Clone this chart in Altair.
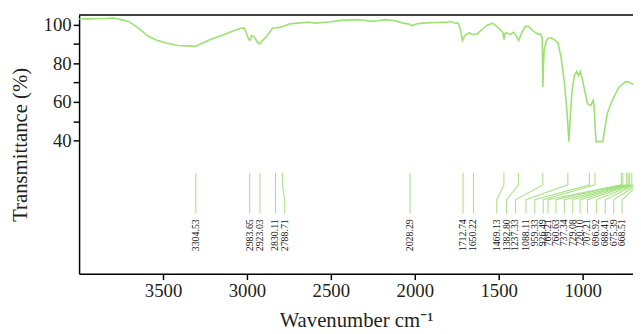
import altair as alt
import pandas as pd

# ---- spectrum ----
wn = [4000, 3950, 3900, 3850, 3794, 3750, 3706, 3650, 3588, 3540, 3488, 3412, 3350, 3306,
      3270, 3218, 3135, 3080, 3041, 3018, 3005, 2990, 2983, 2971, 2955, 2935, 2923, 2905,
      2882, 2847, 2830, 2806, 2790, 2747, 2700, 2635, 2588, 2500, 2440, 2353, 2300, 2265,
      2220, 2176, 2120, 2071, 2040, 2018, 1990, 1959, 1900, 1841, 1806, 1784, 1755, 1745,
      1735, 1725, 1716, 1706, 1696, 1676, 1657, 1628, 1600, 1569, 1547, 1539, 1525, 1512,
      1482, 1475, 1469, 1462, 1453, 1429, 1412, 1400, 1390, 1380, 1372, 1363, 1341, 1324,
      1294, 1265, 1251, 1241, 1237, 1233, 1229, 1216, 1206, 1186, 1166, 1147, 1128, 1108,
      1094, 1086, 1082, 1075, 1063, 1049, 1035, 1025, 1014, 1000, 984, 971, 951, 937, 931,
      924, 920, 900, 880, 872, 853, 824, 784, 745, 725, 706, 690]
trans = [102.9, 103.0, 103.1, 103.2, 103.4, 102.6, 101.7, 98.5, 94.0, 92.0, 90.6, 89.2, 89.0, 88.8,
         90.2, 92.3, 94.9, 96.8, 98.0, 98.3, 96.0, 92.5, 91.8, 94.4, 93.5, 90.5, 90.1, 92.0,
         94.0, 98.3, 98.4, 98.6, 98.9, 100.3, 100.8, 101.2, 100.8, 101.5, 102.2, 102.6, 102.3, 101.7,
         102.0, 102.6, 102.0, 100.8, 100.4, 99.5, 100.3, 100.8, 101.0, 101.2, 101.2, 101.6, 100.6, 101.0,
         99.5, 96.0, 91.8, 93.5, 94.9, 95.7, 94.9, 95.2, 97.5, 99.7, 100.3, 100.8, 100.0, 99.1,
         96.6, 96.0, 92.3, 95.5, 95.7, 94.9, 96.0, 94.9, 93.0, 91.8, 94.0, 95.7, 99.1, 99.1,
         96.6, 94.9, 95.2, 93.2, 67.6, 80.0, 87.2, 91.8, 93.0, 93.2, 92.0, 90.6, 82.9, 69.3,
         55.7, 45.0, 39.4, 50.5, 65.9, 73.6, 75.8, 73.6, 75.8, 71.0, 64.2, 59.1, 58.2, 60.8, 57.3,
         45.0, 39.4, 39.4, 39.4, 43.8, 54.0, 60.8, 67.6, 70.5, 70.2, 69.3, 68.5]

# ---- peak annotations ----
peaks = [3304.53, 2983.65, 2923.03, 2830.11, 2788.71, 2028.29, 1712.74, 1650.22,
         1469.13, 1382.80, 1237.33, 1088.11, 959.33, 926.49, 769.21, 760.63,
         737.34, 729.08, 720.10, 707.21, 696.92, 688.41, 675.39, 668.51]
# where each label sits along the wavenumber axis (spread out where crowded)
label_at = [3304.53, 2983.65, 2923.03, 2830.11, 2775, 2028.29, 1712.74, 1650.22,
            1512, 1453, 1400, 1338, 1285, 1235, 1206, 1159,
            1109, 1059, 1015, 971, 918, 865, 815, 765]

# leader-line levels (transmittance units)
LEAD_TOP, LEAD_BEND1, LEAD_BEND2, LEAD_BOT, LABEL_Y = 23.3, 17.0, 9.3, 2.2, -0.8

FONT = "Liberation Serif"
LINE_COLOR = "#9be270"
LEAD_COLOR = "#8fd860"

spec = pd.DataFrame({"wn": wn, "T": trans})

rows = []
for i, (p, l) in enumerate(zip(peaks, label_at)):
    for k, (xv, yv) in enumerate([(p, LEAD_TOP), (p, LEAD_BEND1), (l, LEAD_BEND2), (l, LEAD_BOT)]):
        rows.append({"peak": i, "step": k, "wn": xv, "T": yv})
leaders = pd.DataFrame(rows)

labels = pd.DataFrame({"wn": label_at, "T": [LABEL_Y] * len(peaks),
                       "label": [f"{p:.2f}" for p in peaks]})

xscale = alt.Scale(domain=[700, 4000], reverse=True, nice=False, zero=False)
yscale = alt.Scale(domain=[-29, 105], nice=False, zero=False)

X = alt.X("wn:Q", scale=xscale,
          axis=alt.Axis(values=[3500, 3000, 2500, 2000, 1500, 1000], format="d",
                        title="Wavenumber cm⁻¹", titleFontSize=21, titleY=53,
                        titleBaseline="alphabetic", labelFontSize=19, labelPadding=2))
Y = alt.Y("T:Q", scale=yscale,
          axis=alt.Axis(values=[40, 50, 60, 70, 80, 90, 100],
                        labelExpr="datum.value % 20 == 0 ? datum.label : ''",
                        title="Transmittance (%)", titleFontSize=21, titleX=-59,
                        titleBaseline="middle", labelFontSize=19, labelPadding=2))

spectrum = alt.Chart(spec).mark_line(color=LINE_COLOR, strokeWidth=1.6, clip=True).encode(
    x=X, y=Y,
)

lead = alt.Chart(leaders).mark_line(color=LEAD_COLOR, strokeWidth=1.1, opacity=0.75, clip=True).encode(
    x=X, y=Y,
    detail="peak:N",
    order="step:Q",
)

text = alt.Chart(labels).mark_text(angle=270, align="right", baseline="middle",
                                   font=FONT, fontSize=10, color="#222222", clip=True).encode(
    x=X, y=Y,
    text="label:N",
)

top_border = alt.Chart(pd.DataFrame({"a": [0]})).mark_rule(color="black", strokeWidth=1.5).encode(
    y=alt.value(0)
)

chart = alt.layer(spectrum, lead, text, top_border).properties(
    width=561, height=262,
    padding={"left": 72, "top": 5, "right": 0, "bottom": 59},
    autosize=alt.AutoSizeParams(type="none"),
).configure_view(stroke=None).configure_axis(
    grid=False, domainColor="black", domainWidth=1.5, tickColor="black", tickWidth=1.5,
    tickSize=6, labelFont=FONT, titleFont=FONT, labelColor="#231f20", titleColor="#231f20",
    titleFontWeight="normal",
)

chart.save("out.html", embed_options={"renderer": "svg", "actions": False})
